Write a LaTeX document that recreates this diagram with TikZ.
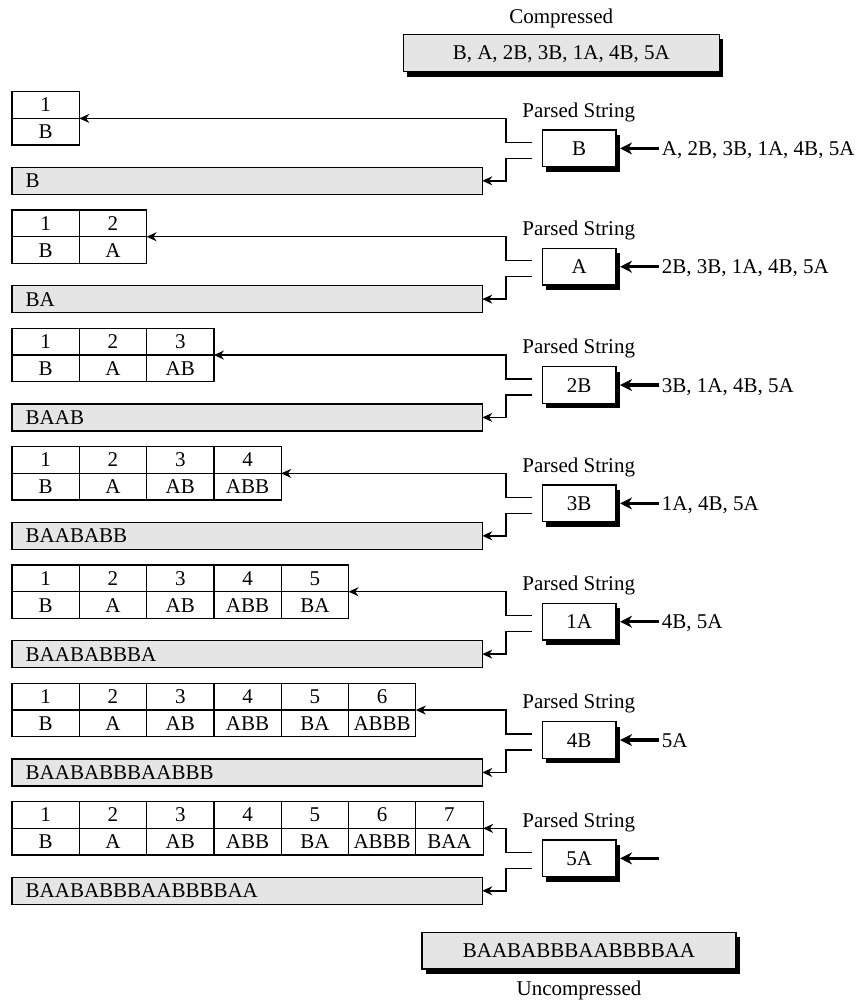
\documentclass[tikz,border=0pt]{standalone}
\usepackage{fontspec}
\setmainfont{Liberation Serif}
\usetikzlibrary{arrows.meta,shadows,calc}
\newcommand\dictword[1]{\ifcase#1\or B\or A\or AB\or ABB\or BA\or ABBB\or BAA\fi}
\newcommand\barword[1]{\ifcase#1\or B\or BA\or BAAB\or BAABABB\or BAABABBBA\or BAABABBBAABBB\or BAABABBBAABBBBAA\fi}
\newcommand\parsedword[1]{\ifcase#1\or B\or A\or 2B\or 3B\or 1A\or 4B\or 5A\fi}
\newcommand\restword[1]{\ifcase#1\or A, 2B, 3B, 1A, 4B, 5A\or 2B, 3B, 1A, 4B, 5A\or 3B, 1A, 4B, 5A\or 1A, 4B, 5A\or 4B, 5A\or 5A\or \fi}
\begin{document}
\begin{tikzpicture}[x=1pt,y=-1pt,
  font=\fontsize{21}{25}\selectfont,
  caps/.style={text height=13.9pt, text depth=0pt},
  cell/.style={draw, line width=1.2pt, minimum width=67.3pt, minimum height=26.7pt,
    inner sep=0pt, outer sep=0pt, anchor=north west, caps},
  bar/.style={draw, fill=gray!20, line width=1.2pt, minimum height=27pt,
    text width=442.9pt, inner xsep=13.7pt, inner ysep=0pt, outer sep=0pt,
    align=left, anchor=north west, caps},
  shadowbox/.style={draw, line width=1.2pt, inner sep=0pt, outer sep=0pt, caps,
    drop shadow={shadow xshift=4pt, shadow yshift=-5pt, fill=black, opacity=1}},
  thinarrow/.style={line width=1.5pt, -{Stealth[length=10pt,width=9pt]}},
  thickarrow/.style={line width=3.2pt, -{Stealth[length=12pt,width=12pt]}},
  label/.style={inner sep=0pt}]
\useasboundingbox (0,0) rectangle (866,1003);

% top
\node[label] (clab) at (561.3,18) {Compressed};
\node[shadowbox, fill=gray!20, minimum width=316pt, minimum height=37.4pt] (comp) at (561.3,53) {B, A, 2B, 3B, 1A, 4B, 5A};

\foreach \k in {1,...,7}{
  \pgfmathsetmacro\T{91.7+(\k-1)*118.33}
  \foreach \j in {1,...,\k}{
    \node[cell] (n\k-\j) at ({12+(\j-1)*67.3}, \T) {\j};
    \node[cell] (s\k-\j) at ({12+(\j-1)*67.3}, \T+26.7) {\dictword{\j}};
  }
  \node[bar] (b\k) at (12, \T+75.6) {\barword{\k}};
  \node[shadowbox, fill=white, minimum width=73.7pt, minimum height=36.7pt] (p\k) at (579.2, \T+56.7) {\parsedword{\k}};
  \node[label] (ps\k) at (578.7, \T+20.3) {Parsed String};
  \node[label, anchor=west, caps] (r\k) at (661.7, \T+56.7) {\restword{\k}};
  \coordinate (u\k) at ([xshift=-10.6pt, yshift=6.1pt]p\k.west);
  \coordinate (l\k) at ([xshift=-10.6pt, yshift=-9.9pt]p\k.west);
  \draw[thinarrow] (u\k) -- ++(-26,0) |- (s\k-\k.north east);
  \draw[thinarrow] (l\k) -- ++(-26,0) |- (b\k.east);
  \draw[thickarrow] ([xshift=-2.4pt]r\k.west) -- ([xshift=4pt]p\k.east);
}

% bottom
\node[shadowbox, fill=gray!20, minimum width=314pt, minimum height=36.7pt] (unc) at (579,950.7) {BAABABBBAABBBBAA};
\node[label] (ulab) at (579,990) {Uncompressed};
\end{tikzpicture}
\end{document}
